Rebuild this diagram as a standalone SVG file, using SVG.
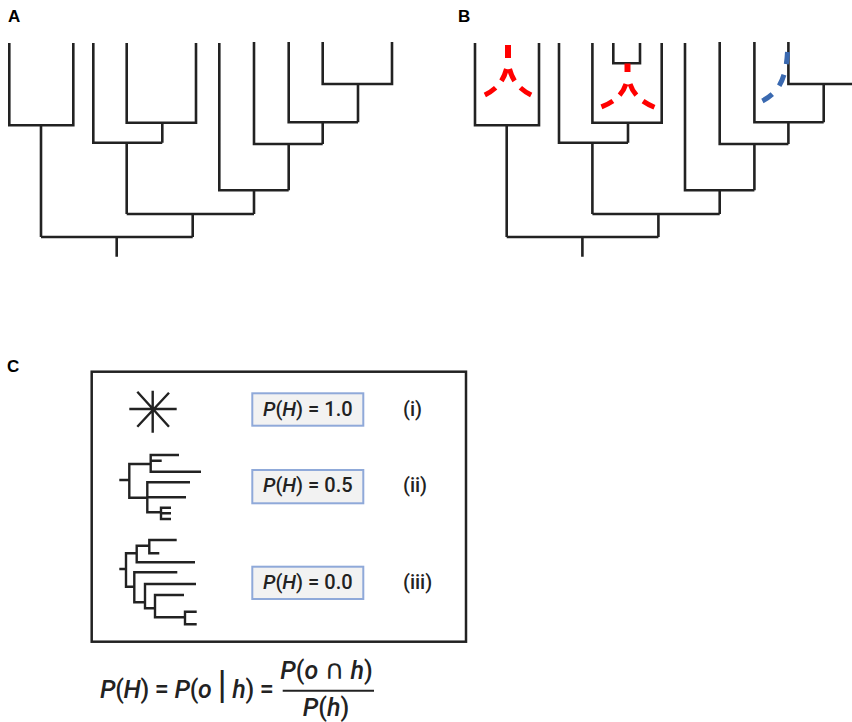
<svg xmlns="http://www.w3.org/2000/svg" xmlns:xlink="http://www.w3.org/1999/xlink" width="852" height="722" viewBox="0 0 852 722">
<style>
.br{fill:none;stroke:#222;stroke-width:2.6;stroke-linejoin:miter;stroke-linecap:butt}
.sm{fill:none;stroke:#222;stroke-width:2.4;stroke-linecap:butt}
.red{fill:none;stroke:#ff0000;stroke-width:5;stroke-dasharray:13 9}
.blue{fill:none;stroke:#3a69b0;stroke-width:5;stroke-dasharray:12 11}
.lbl{font-family:"Liberation Sans",Arial,sans-serif;font-weight:bold;font-size:17px;fill:#000}
.t{font-family:Roboto,"Liberation Sans",sans-serif;font-weight:500;font-size:20px;fill:#222}
.f{font-family:Roboto,"Liberation Sans",sans-serif;font-weight:500;font-size:25px;fill:#222}
.it{font-style:italic}
.cap{font-family:"DejaVu Sans",sans-serif;font-weight:normal;font-size:27px}
.pb{fill:#f2f2f2;stroke:#8fa9d9;stroke-width:2}
</style>
<defs>
<g id="tree">
<path class="br" d="M9.3,43 V125.3 H73.3 V43 M41,125.3 V237 M126.7,43 V122.7 H196 V43 M162.3,122.7 V142.7 M93.3,43 V142.7 H162.3 M126.7,142.7 V214 M322.7,42 V84 H392 V42 M358,84 V122.3 M288.7,42 V122.3 H358 M322.7,122.3 V144 M254,42 V144 H322.7 M288.7,144 V190.3 M219.3,43 V190.3 H288.7 M254,190.3 V214 M126.7,214 H254 M192.7,214 V237 M41,237 H192.7 M116.7,237 V256.7"/>
</g>
</defs>
<g id="labels">
<text class="lbl" x="8" y="22">A</text>
<text class="lbl" x="458" y="22">B</text>
<text class="lbl" x="7" y="372">C</text>
</g>
<g id="treeA"><use xlink:href="#tree"/></g>
<g id="treeB">
<use xlink:href="#tree" transform="translate(465.7,0)"/>
<path class="br" d="M613.3,43 V63.3 H640 V43"/>
</g>
<g id="connectors">
<path class="red" d="M508,45 V59" style="stroke-width:6"/>
<path class="red" d="M506.5,69 C503,82 496,91 478,98"/>
<path class="red" d="M509.5,69 C513,82 520,91 538,98"/>
<path class="red" d="M627.5,63.5 V72" style="stroke-width:6"/>
<path class="red" d="M626,84 C622,96 613,103 596,109"/>
<path class="red" d="M630,84 C634,96 643,103 659,109"/>
<path class="blue" d="M787.5,52 C786,80 778,96 755,104"/>
</g>
<g id="panelC">
<rect x="91.7" y="371.7" width="374.3" height="270" fill="none" stroke="#222" stroke-width="2.5"/>
<g id="star">
<path class="sm" d="M129.3,409 H176.7 M152.7,390.7 V432.7 M137.3,391.7 L169,426.7 M169,392.7 L137.3,426.7"/>
</g>
<g id="tree2">
<path class="sm" d="M119.3,480 H129.3 M150.7,464 H129.3 V497.7 H147.3 M179,455 H150.7 V471.7 H201 M150.7,460.7 H161.7 M190,482.3 H147.3 V512.3 H161 M147.3,497.3 H186 M171,507.7 H161 V519 H171 M161,513.3 H171"/>
</g>
<g id="tree3">
<path class="sm" d="M119.3,569 H126 M136.7,553.3 H126 V586.7 H134.3 M149.3,545.7 H136.7 V562.3 H195 M176.7,540 H149.3 V553.3 H159.3 M177.3,572.3 H134.3 V602.3 H145 M196,584 H145 V608.3 H155 M184,595 H155 V617.3 H185 M196.7,611.7 H185 V624.3 H196.7"/>
</g>
<g id="p1">
<rect class="pb" x="252.3" y="393.3" width="111" height="32.4"/>
<text class="t" x="307.8" y="415.7" text-anchor="middle"><tspan class="it">P</tspan>(<tspan class="it">H</tspan>) = 1.0</text>
</g>
<g id="p2">
<rect class="pb" x="252.3" y="470" width="111" height="33.3"/>
<text class="t" x="307.8" y="492.4" text-anchor="middle"><tspan class="it">P</tspan>(<tspan class="it">H</tspan>) = 0.5</text>
</g>
<g id="p3">
<rect class="pb" x="252.3" y="566.7" width="111" height="32.3"/>
<text class="t" x="307.8" y="589.1" text-anchor="middle"><tspan class="it">P</tspan>(<tspan class="it">H</tspan>) = 0.0</text>
</g>
<text class="t" x="403" y="415.7">(i)</text>
<text class="t" x="403" y="492.4">(ii)</text>
<text class="t" x="403" y="589.1">(iii)</text>
</g>
<g id="formula">
<text class="f" x="100" y="698" letter-spacing="-0.3"><tspan class="it">P</tspan>(<tspan class="it">H</tspan>) = <tspan class="it">P</tspan>(<tspan class="it">o</tspan> <tspan style="font-size:38px;font-weight:normal">|</tspan> <tspan class="it">h</tspan>) =</text>
<text class="f" x="326.5" y="679" text-anchor="middle"><tspan class="it">P</tspan>(<tspan class="it">o</tspan> <tspan class="cap">∩</tspan> <tspan class="it">h</tspan>)</text>
<line x1="282.7" y1="690.7" x2="374" y2="690.7" stroke="#222" stroke-width="2"/>
<text class="f" x="326" y="716" text-anchor="middle"><tspan class="it">P</tspan>(<tspan class="it">h</tspan>)</text>
</g>
</svg>
